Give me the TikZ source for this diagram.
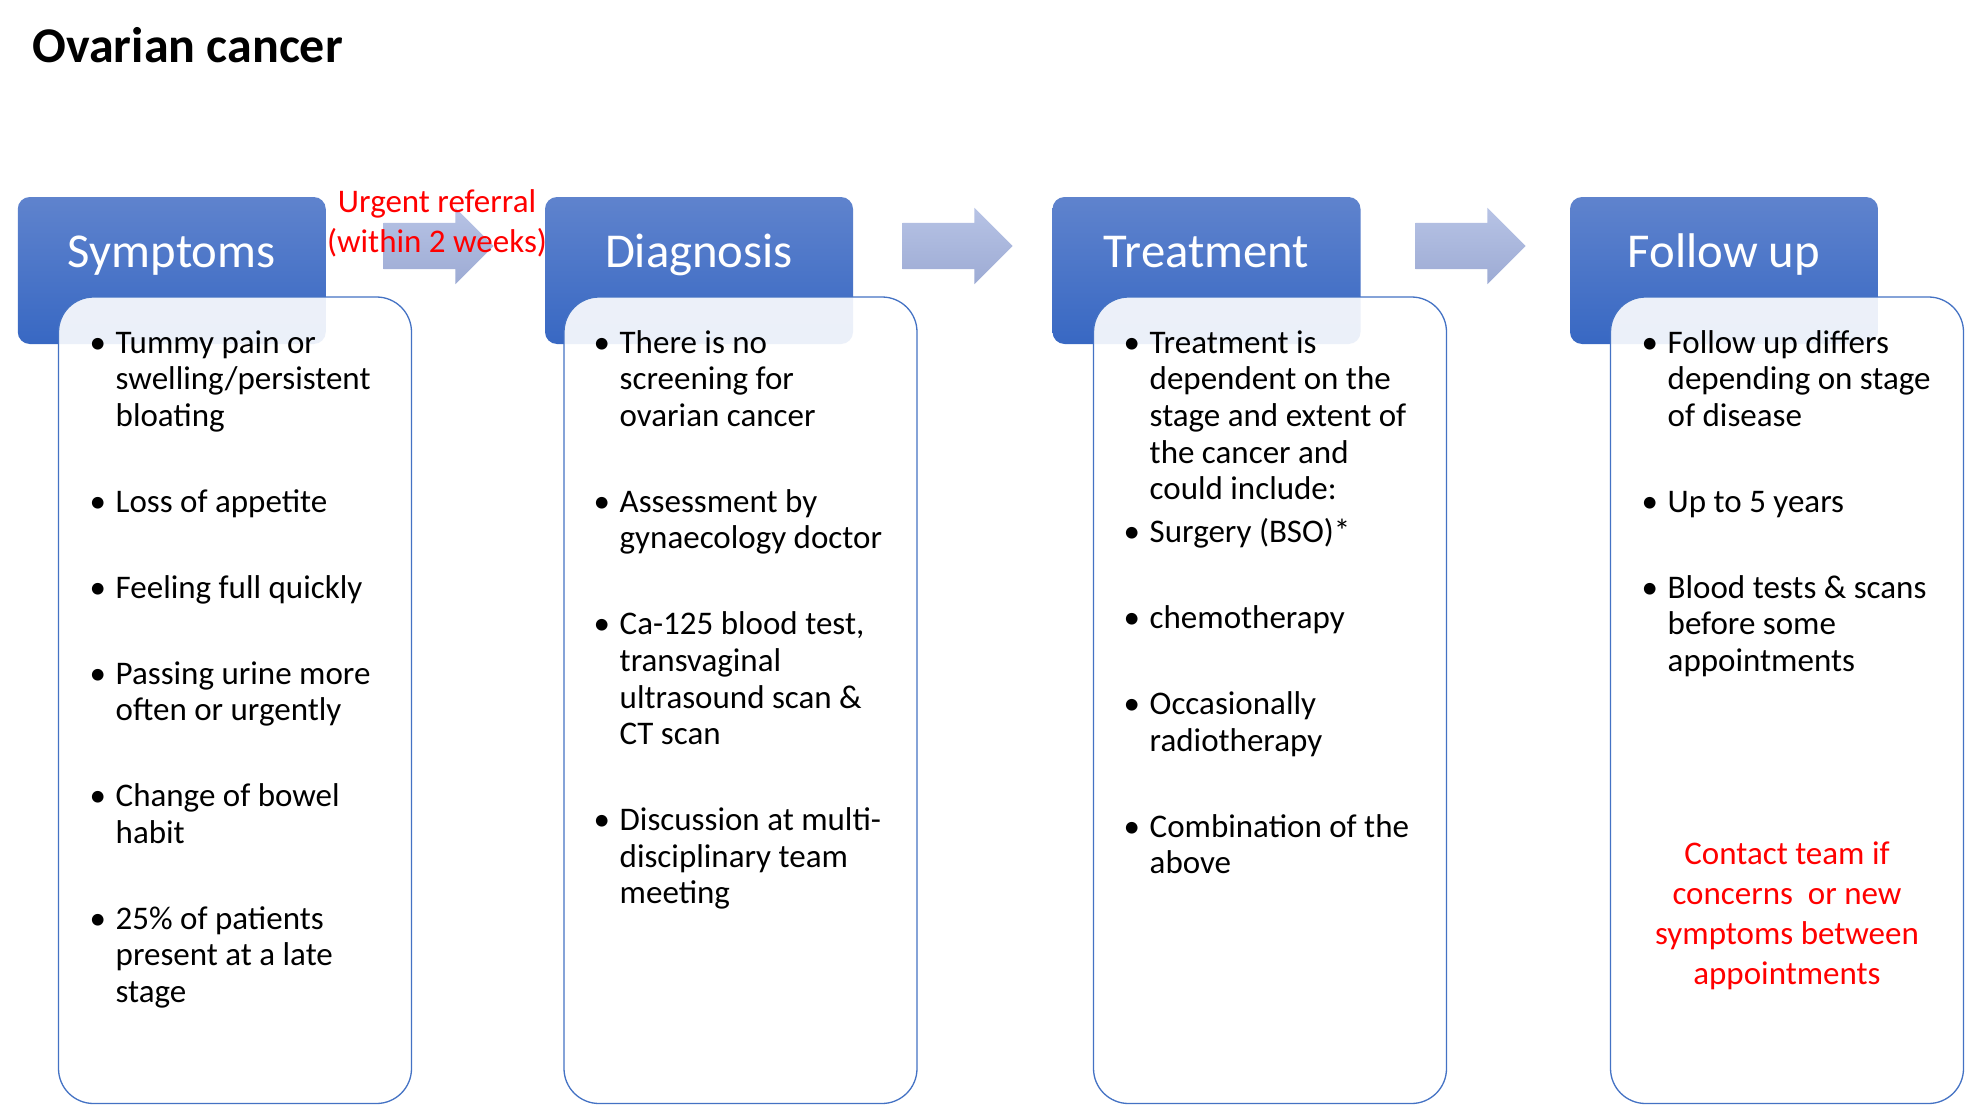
\documentclass[tikz,border=0pt]{standalone}
\usepackage{fontspec}
\setmainfont{Carlito}
\usepackage{tikz}
\usetikzlibrary{shapes,arrows}

\definecolor{hdrtop}{RGB}{95,131,205}
\definecolor{hdrbot}{RGB}{56,104,195}
\definecolor{arrtop}{RGB}{183,195,229}
\definecolor{arrbot}{RGB}{157,171,212}
\definecolor{edge}{RGB}{68,114,196}

\begin{document}
\begin{tikzpicture}[x=1pt,y=-1pt]

  \tikzstyle{hdr}=[rectangle,rounded corners=12pt,top color=hdrtop,bottom color=hdrbot,
    text=white,font={\fontsize{48.7}{58}\selectfont},
    minimum width=308pt,minimum height=147pt,text height=36pt,text depth=43pt]
  \tikzstyle{panel}=[rectangle,rounded corners=35pt,draw=edge,line width=1.3pt,
    fill=white,fill opacity=0.9,minimum width=353pt,minimum height=806.5pt]
  \tikzstyle{arr}=[single arrow,top color=arrtop,bottom color=arrbot,
    inner xsep=0pt,inner ysep=23pt,text height=0pt,text depth=0pt,
    minimum height=110pt,minimum width=76pt,single arrow head extend=15pt]
  \tikzstyle{txt}=[anchor=north west,inner sep=0pt,font={\fontsize{33}{36.6}\selectfont}]
  \tikzstyle{note}=[anchor=north,inner sep=0pt,text=red,font={\fontsize{33}{40}\selectfont}]

  \useasboundingbox[fill=white] (0,0) rectangle (1966,1105);

  \node (title) at (29,63)  [anchor=base west,font={\bfseries\fontsize{50}{60}\selectfont}]
    {Ovarian cancer};

  \node (a1) at (427,246)   [arr] {};
  \node (a2) at (946,246)   [arr] {};
  \node (a3) at (1459,246)  [arr] {};

  \node (sym) at (171.75,270.5) [hdr] {Symptoms};
  \node (dia) at (699,270.5)    [hdr] {Diagnosis};
  \node (tre) at (1206.5,270.5) [hdr] {Treatment};
  \node (fol) at (1724,270.5)   [hdr] {Follow up};

  \node (symbox) at (235,700.25)  [panel] {};
  \node (diabox) at (740.5,700.25) [panel] {};
  \node (trebox) at (1270,700.25) [panel] {};
  \node (folbox) at (1787,700.25) [panel] {};

  \node (urgent) at (437,184) [note]
    {\begin{tabular}{@{}c@{}}Urgent referral\\(within 2 weeks)\end{tabular}};

  \node (symtxt) at (89.5,327.4) [txt] {\begin{tabular}{@{}p{26pt}@{}l@{}}
    \textbullet & Tummy pain or\\
    & swelling/persistent\\
    & bloating\\[49.3pt]
    \textbullet & Loss of appetite\\[49.3pt]
    \textbullet & Feeling full quickly\\[49.3pt]
    \textbullet & Passing urine more\\
    & often or urgently\\[49.3pt]
    \textbullet & Change of bowel\\
    & habit\\[49.3pt]
    \textbullet & 25\% of patients\\
    & present at a late\\
    & stage
  \end{tabular}};

  \node (diatxt) at (593.5,327.4) [txt] {\begin{tabular}{@{}p{26pt}@{}l@{}}
    \textbullet & There is no\\
    & screening for\\
    & ovarian cancer\\[49.3pt]
    \textbullet & Assessment by\\
    & gynaecology doctor\\[49.3pt]
    \textbullet & Ca-125 blood test,\\
    & transvaginal\\
    & ultrasound scan \&\\
    & CT scan\\[49.3pt]
    \textbullet & Discussion at multi-\\
    & disciplinary team\\
    & meeting
  \end{tabular}};

  \node (tretxt) at (1123.5,327.4) [txt] {\begin{tabular}{@{}p{26pt}@{}l@{}}
    \textbullet & Treatment is\\
    & dependent on the\\
    & stage and extent of\\
    & the cancer and\\
    & could include:\\[6.5pt]
    \textbullet & Surgery (BSO)*\\[49.3pt]
    \textbullet & chemotherapy\\[49.3pt]
    \textbullet & Occasionally\\
    & radiotherapy\\[49.3pt]
    \textbullet & Combination of the\\
    & above
  \end{tabular}};

  \node (foltxt) at (1641.5,327.4) [txt] {\begin{tabular}{@{}p{26pt}@{}l@{}}
    \textbullet & Follow up differs\\
    & depending on stage\\
    & of disease\\[49.3pt]
    \textbullet & Up to 5 years\\[49.3pt]
    \textbullet & Blood tests \& scans\\
    & before some\\
    & appointments
  \end{tabular}};

  \node (contact) at (1787,836) [note]
    {\begin{tabular}{@{}c@{}}Contact team if\\concerns~ or new\\symptoms between\\appointments\end{tabular}};
\end{tikzpicture}
\end{document}
